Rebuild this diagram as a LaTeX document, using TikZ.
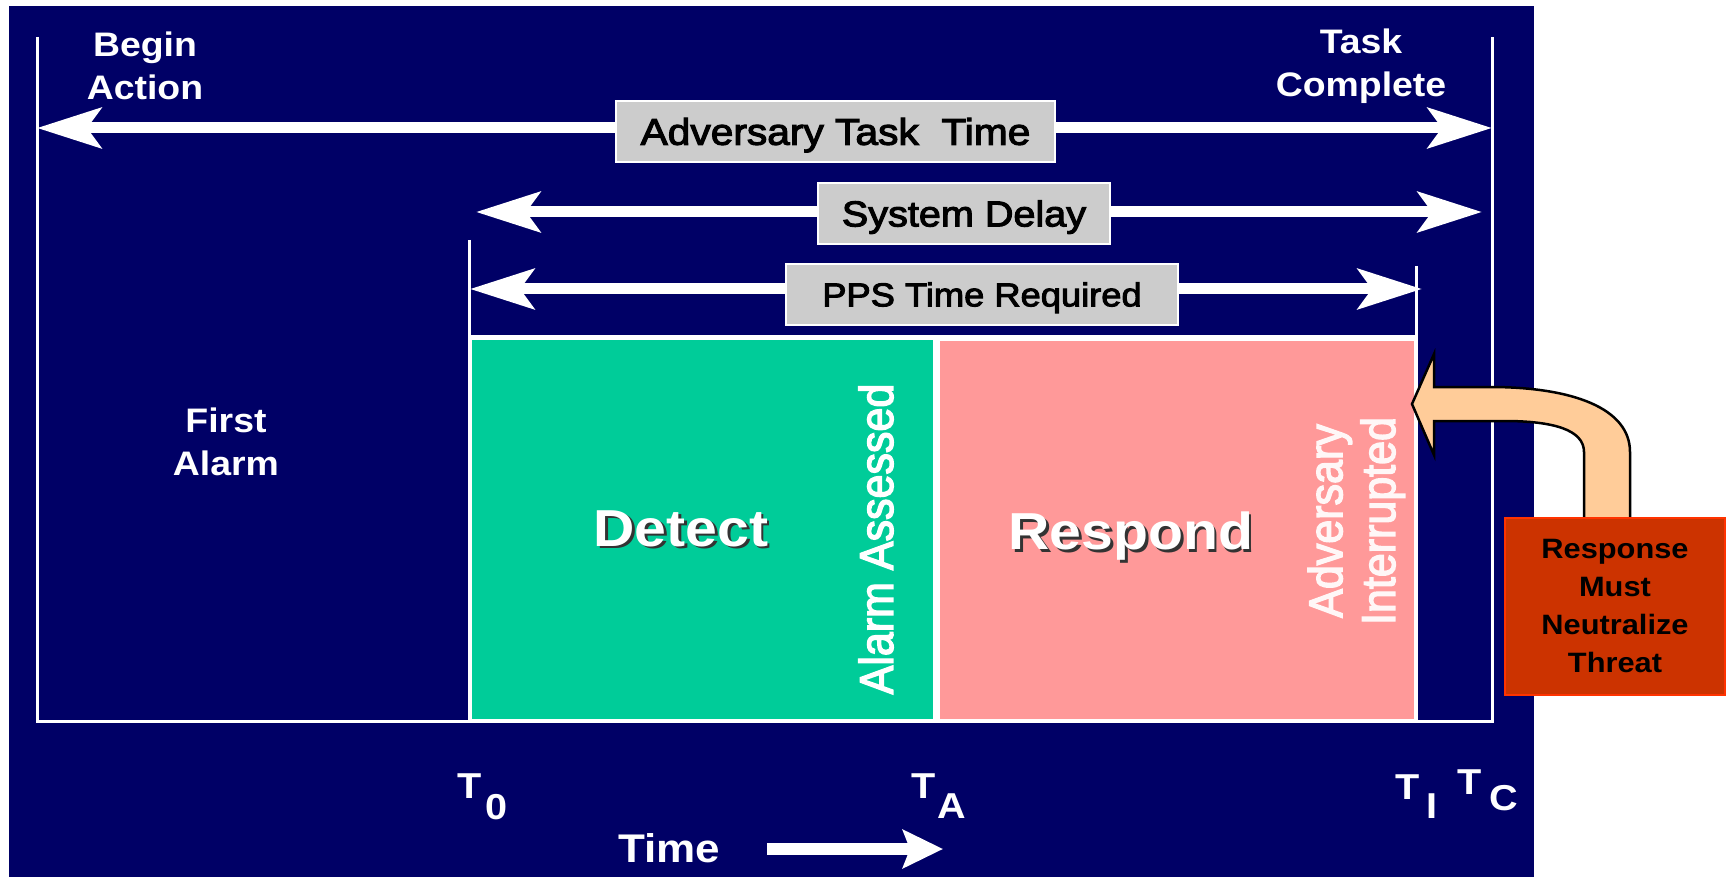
\documentclass[tikz,border=0pt]{standalone}
\usepackage{fontspec}
\usepackage{graphicx}
\setmainfont{Liberation Sans}[FakeStretch=1.1]
\newfontfamily\plainface{Liberation Sans}[FakeBold=3]
\newfontfamily\tagface{Liberation Sans}[FakeStretch=1.1, FakeBold=3]
\usetikzlibrary{arrows.meta}

\definecolor{navy}{RGB}{0,0,102}
\definecolor{detectgreen}{RGB}{0,204,153}
\definecolor{respondpink}{RGB}{255,153,153}
\definecolor{tagfill}{RGB}{204,204,204}
\definecolor{threatred}{RGB}{204,51,0}
\definecolor{threatedge}{RGB}{255,51,0}
\definecolor{peach}{RGB}{255,204,153}

% font size / baseline skip in pt
\newcommand{\fsz}[2]{\fontsize{#1}{#2}\selectfont}
% white lettering with a dark drop shadow
\newcommand{\shadowed}[1]{\makebox[0pt][l]{\hspace{2.5pt}\raisebox{-2.5pt}{\textcolor{black!80}{#1}}}#1}
% time mark: T, kern, drop, subscript letter
\newcommand{\tsub}[3]{T\kern#1pt\raisebox{-#2pt}{#3}}

\begin{document}
\begin{tikzpicture}[x=1pt, y=-1pt,
  bigtip/.tip={Stealth[length=64pt,width=40pt,inset=14pt]},
  smalltip/.tip={Stealth[length=40pt,width=38pt,inset=7pt]},
  spanarrow/.style={draw=white, line width=11pt, bigtip-bigtip},
  outline/.style={draw=white, line width=3pt},
  timetag/.style={draw=white, line width=2pt, fill=tagfill, text=black,
    inner sep=0pt, text depth=0pt, minimum height=61pt},
  phasebox/.style={inner sep=0pt, draw=none},
  heading/.style={text=white, font=\fsz{34}{42.5}\bfseries, align=center,
    inner sep=0pt, anchor=north},
  phaselabel/.style={text=white, font=\fsz{52}{60}\bfseries, inner sep=0pt,
    text height=37.2pt, text depth=0pt},
  eventlabel/.style={text=white, font=\plainface\fsz{43}{48}, inner sep=0pt, rotate=90},
  tlabel/.style={text=white, font=\fsz{36}{40}\bfseries, inner sep=0pt, anchor=base west},
]
\useasboundingbox (0,0) rectangle (1735,877);
\fill[white] (0,0) rectangle (1735,877);
\fill[navy] (9,6) rectangle (1534,877);

% frame of the whole task
\coordinate (beginTop) at (37,37);
\coordinate (beginFoot) at (37,721);
\coordinate (endTop) at (1492,37);
\coordinate (endFoot) at (1492,721);
\draw[outline] (beginTop) -- (beginFoot) -- (endFoot) -- (endTop);

% detection / response band
\coordinate (startTop) at (469,240);
\coordinate (startFoot) at (469,721);
\coordinate (stopTop) at (1416,266);
\coordinate (stopFoot) at (1416,721);
\coordinate (bandL) at (469,337);
\coordinate (bandR) at (1416,337);
\fill[white] (bandL) rectangle (stopFoot);
\draw[outline] (startTop) -- (startFoot);
\draw[outline] (stopTop) -- (stopFoot);
\draw[outline] (bandL) -- (bandR);

\node[phasebox, fill=detectgreen, minimum width=461pt, minimum height=379pt] (detect) at (702.5,529.5) {};
\node[phasebox, fill=respondpink, minimum width=474pt, minimum height=378pt] (respond) at (1177,530) {};

% interval arrows
\coordinate (attL) at (37,128);
\coordinate (attR) at (1492,128);
\coordinate (sdL) at (476,212);
\coordinate (sdR) at (1482,212);
\coordinate (ppsL) at (470,289);
\coordinate (ppsR) at (1422,289);
\draw[spanarrow] (attL) -- (attR);
\draw[spanarrow] (sdL) -- (sdR);
\draw[spanarrow] (ppsL) -- (ppsR);

\node[timetag, minimum width=439pt, font=\tagface\fsz{37}{44}, text height=26.5pt] (att) at (835.5,131.5) {Adversary Task\ \ Time};
\node[timetag, minimum width=292pt, font=\tagface\fsz{36}{44}, text height=25.8pt] (sd) at (964,213.5) {System Delay};
\node[timetag, minimum width=392pt, font=\tagface\fsz{33}{40}, text height=23.6pt] (pps) at (982,294.5) {PPS Time Required};

% headings
\node[heading] (begin) at (145,32) {Begin\\Action};
\node[heading] (complete) at (1361,29) {Task\\Complete};
\node[heading] (first) at (226,408) {First\\Alarm};

% phase names
\node[phaselabel] (detectword) at (681,527.5) {\shadowed{Detect}};
\node[phaselabel] (respondword) at (1131,531) {\shadowed{Respond}};

% events
\node[eventlabel] (assessed) at (876,539) {\scalebox{1}[1.1]{Alarm Assessed}};
\node[eventlabel, text=white!92!respondpink] (interrupted) at (1358,521) {\scalebox{1}[1.1]{\begin{tabular}{@{}c@{}}Adversary\\Interrupted\end{tabular}}};

% time marks
\node[tlabel] (t0) at (457,798) {\tsub{4}{21}{0}};
\node[tlabel] (ta) at (911,798) {\tsub{2}{20}{A}};
\node[tlabel] (ti) at (1395,799) {\tsub{7}{19}{I}};
\node[tlabel] (tc) at (1457,794) {\tsub{8}{16}{C}};

\node[tlabel, font=\fsz{40}{44}\bfseries] (timeword) at (618,862) {Time};
\coordinate (timeL) at (767,849);
\coordinate (timeR) at (943,849);
\draw[white, line width=12pt, -smalltip] (timeL) -- (timeR);

% block arrow from the response box to the interruption point
\coordinate (interruptTip) at (1412,404);
\draw[fill=peach, draw=black, line width=2.5pt, line join=miter]
  (interruptTip) -- (1434,354) -- (1434,387) -- (1490,387)
  .. controls (1572,387) and (1630,408) .. (1630,452)
  -- (1630,519) -- (1584,519) -- (1584,452)
  .. controls (1584,430) and (1554,421) .. (1504,421)
  -- (1434,421) -- (1434,455) -- cycle;

\node[draw=threatedge, line width=2.5pt, fill=threatred, minimum width=220pt,
  minimum height=177pt, inner sep=0pt, align=center, text=black,
  font=\fsz{28}{38}\bfseries] (threat) at (1615,606.5) {Response\\Must\\Neutralize\\Threat};
\end{tikzpicture}
\end{document}
